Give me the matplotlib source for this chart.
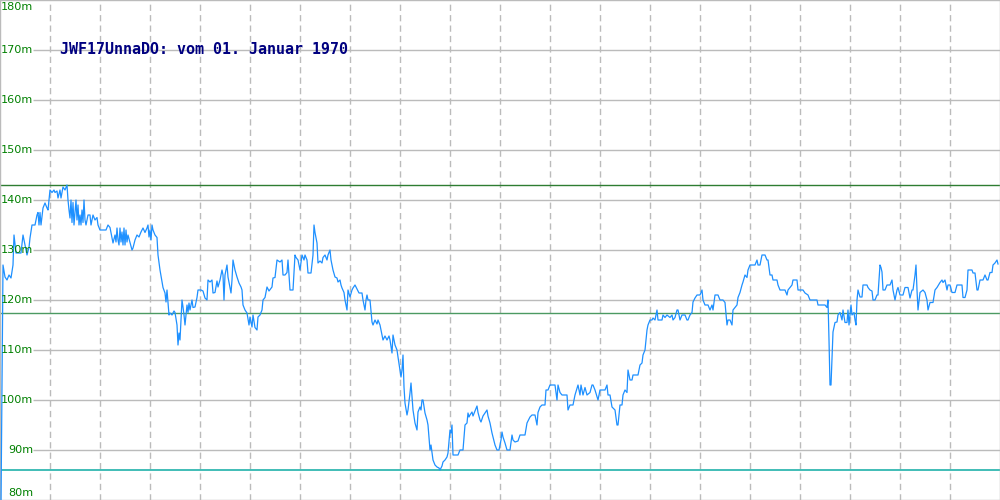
import matplotlib
matplotlib.use("Agg")
import matplotlib.pyplot as plt

# ---- data -------------------------------------------------------------
titel = "JWF17UnnaDO: vom 01. Januar 1970"
y_ticks = [80, 90, 100, 110, 120, 130, 140, 150, 160, 170, 180]
y_labels = ["80m", "90m", "100m", "110m", "120m", "130m", "140m", "150m", "160m", "170m", "180m"]
x_grid = [50, 100, 150, 200, 250, 300, 350, 400, 450, 500, 550, 600, 650, 700, 750, 800, 850, 900, 950]
maximum = 143.0
mittel = 117.4
minimum = 86.0

tage = [1, 3, 5, 7, 9, 11, 13, 14, 16, 19, 21, 23, 25, 27, 29, 30, 32, 35, 37, 38, 39, 40, 41, 43, 45, 47, 48,
        50, 52, 54, 55, 57, 58, 60, 61, 63, 65, 67, 68, 69, 70, 71, 72, 73, 74, 76, 77, 78, 79, 80, 81, 82, 83,
        84, 85, 86, 88, 90, 91, 93, 95, 97, 98, 100, 104, 106, 108, 110, 113, 115, 116, 117, 118, 119, 120, 121,
        122, 123, 124, 125, 126, 127, 128, 130, 132, 133, 135, 137, 139, 141, 143, 145, 147, 148, 149, 150, 151,
        152, 153, 155, 157, 158, 160, 162, 163, 165, 166, 167, 168, 169, 170, 172, 174, 175, 177, 178, 179, 180,
        182, 183, 184, 185, 187, 188, 189, 190, 192, 193, 195, 197, 198, 201, 203, 205, 207, 208, 210, 212, 213,
        215, 217, 218, 220, 222, 223, 224, 225, 227, 228, 230, 231, 232, 233, 235, 237, 239, 241, 242, 243, 245,
        247, 249, 250, 252, 253, 255, 257, 258, 260, 262, 263, 265, 267, 269, 272, 273, 275, 277, 280, 282, 283,
        285, 287, 288, 290, 293, 295, 296, 298, 300, 302, 304, 305, 307, 308, 311, 313, 314, 315, 317, 318, 320,
        322, 323, 325, 327, 328, 330, 331, 333, 335, 337, 338, 340, 341, 342, 344, 345, 347, 348, 350, 352, 353,
        355, 357, 359, 362, 363, 365, 366, 367, 368, 370, 372, 373, 375, 377, 378, 380, 382, 383, 385, 387, 389,
        390, 392, 393, 395, 397, 398, 400, 401, 402, 403, 404, 405, 407, 408, 410, 411, 413, 415, 417, 418, 420,
        421, 422, 423, 425, 427, 428, 430, 431, 432, 433, 435, 437, 439, 440, 442, 443, 445, 447, 448, 450, 451,
        452, 453, 455, 458, 460, 463, 465, 467, 468, 469, 470, 472, 473, 475, 477, 478, 480, 481, 483, 485, 487,
        488, 490, 492, 493, 495, 497, 499, 501, 502, 503, 505, 507, 510, 512, 513, 515, 518, 520, 525, 527, 530,
        532, 535, 537, 538, 540, 542, 545, 546, 548, 550, 555, 557, 558, 560, 562, 565, 567, 568, 570, 573, 575,
        578, 580, 581, 583, 585, 587, 590, 592, 593, 595, 598, 600, 605, 607, 608, 610, 612, 615, 617, 618, 620,
        622, 623, 625, 627, 628, 630, 632, 633, 638, 640, 642, 643, 645, 647, 648, 650, 652, 653, 655, 657, 658,
        662, 663, 665, 667, 670, 672, 673, 675, 677, 678, 680, 682, 685, 687, 688, 690, 692, 693, 695, 697, 700,
        702, 703, 705, 708, 710, 712, 713, 715, 718, 720, 723, 725, 727, 728, 730, 732, 733, 737, 738, 740, 742,
        743, 745, 747, 748, 750, 755, 757, 758, 760, 762, 765, 767, 768, 770, 772, 773, 777, 778, 780, 782, 785,
        787, 788, 792, 793, 797, 798, 803, 805, 808, 810, 817, 818, 825, 827, 828, 829, 830, 831, 832, 833, 835,
        837, 838, 840, 842, 843, 845, 847, 848, 849, 851, 852, 854, 855, 856, 857, 858, 860, 862, 863, 867, 868,
        870, 872, 873, 875, 877, 878, 880, 881, 882, 883, 885, 887, 890, 892, 893, 895, 897, 898, 900, 903, 905,
        908, 910, 912, 913, 915, 916, 917, 918, 920, 923, 925, 927, 928, 930, 933, 935, 937, 940, 942, 943, 945,
        947, 948, 950, 952, 955, 957, 962, 963, 965, 967, 968, 972, 973, 975, 977, 978, 980, 983, 985, 987, 988,
        990, 992, 993, 995, 997, 998]

pegel = [79, 127, 124.6, 124.0, 125.0, 124.4, 127, 133, 129.4, 129.4, 129.4, 133, 131, 129, 130.5, 132.4, 135, 135,
         137, 137.5, 135, 137.5, 135, 138.4, 139.4, 138.4, 138,
         142, 141.5, 142, 141.5, 141.8, 140.4, 142, 140.4, 142.6, 142, 143, 140, 138, 136.4, 140, 135.5, 139.5, 135,
         140, 136, 139, 135, 137, 135, 138, 135.5,
         140, 136, 135, 137, 137, 135, 137, 136, 136.5, 135, 134, 134, 134, 135, 134.5, 131.4, 133, 131.6, 134.4,
         132, 131, 134.4, 131.6,
         133.6, 131, 134.4, 131, 134, 131.6, 133, 131.5, 130, 130.4, 132, 133, 132.6, 133.6, 134.4, 133.5, 134.4,
         135, 132.6, 134, 132,
         135, 134, 133, 132.5, 129, 126, 123.6, 122.5, 121.4, 119.6, 122, 119.5, 117, 117.4, 117, 117.8, 117.5,
         115, 111, 113.4, 112,
         120, 118.6, 117, 115, 119, 117.5, 119.4, 118, 120, 118.5, 118.6, 120.5, 122, 122, 121.8, 120.4, 120, 124,
         123.6, 124, 121.4,
         121.5, 123.8, 122.6, 124, 126, 125, 120, 125, 127, 124.6, 122.5, 121.4, 124, 128, 126, 124.6, 123.4, 122.6,
         122, 119, 118,
         117.4, 115, 116.6, 114.6, 117, 114.5, 114, 116.6, 117, 118, 120, 120.5, 122.6, 121.8, 122.6, 124.4, 124.5,
         128, 127.6, 128, 125,
         125, 125.5, 128, 122, 122, 129, 128.5, 128, 126, 129, 128, 129, 128, 125.4, 125.4, 129, 135, 133.5, 131.4,
         127.4, 127.8,
         127.4, 128.5, 129, 128, 129, 130, 128, 126, 124.6, 124.4, 123.6, 124, 123, 122.4, 121.5, 120, 118, 122,
         120.6, 122, 122.4,
         123, 122.2, 121.4, 121.4, 120, 118, 120, 121, 120, 120, 115.6, 115, 116, 115.2, 116, 115, 113, 112, 112.8,
         112, 112.8,
         112, 109.4, 113, 111, 110, 108.6, 106, 104.6, 106, 109, 102.6, 99.4, 97, 98, 101.4, 103.4, 98, 95.4, 94,
         97.6, 98.6,
         98, 100, 100, 97.4, 96, 95, 90, 91, 89.5, 88, 87, 86.6, 86.4, 86, 86.8, 87.6, 88, 88.6, 89.4, 94, 93.4,
         95, 89, 89, 89, 90, 90, 95, 95.4, 97.4, 96.6, 97, 97.6, 96.8, 97.8, 98.8, 97.5, 96, 95.6, 96.8, 97.4, 98,
         96.8, 95.4, 93.4, 92.6, 91, 90, 90, 92, 93.6, 92.6, 91.4, 90, 90, 93, 92, 91.6, 91.8, 93, 93, 95.4, 96.6,
         97, 97, 95, 97.5, 98.6, 99, 99, 102, 102, 103, 103, 100, 103, 101.5, 101, 101, 101, 98, 99, 99, 101,
         103, 101, 103, 101, 102.5, 101, 101.5, 103, 103, 102, 100, 102, 102, 103, 101, 101, 98.6, 98, 95, 95, 99,
         99, 101, 102, 101.5, 106, 104, 104, 105, 105, 107, 107.4, 109, 110, 114, 115, 116, 116, 116.4, 116, 118, 116,
         116, 117, 116.5, 117, 116.5, 117, 116, 116.5, 118, 118, 116, 117, 117, 116, 116, 117, 117.5, 119.6, 120.4,
         121, 121,
         122, 120, 119, 119, 118, 119, 118, 121, 121, 120, 120, 119.5, 115, 116, 116, 115, 118, 119, 120.5, 121.5,
         123,
         123.6, 125, 124.5, 126, 127, 127, 128, 127, 127, 129, 129, 128, 128, 125, 125, 124, 124, 123, 122, 122, 122,
         121, 122, 123, 124, 124, 122, 122, 121.4, 121, 120, 120, 119, 119, 118.5, 120, 112, 103, 103, 108.4, 113.6,
         115.5,
         115.6, 117, 117.5, 116, 118, 115.5, 115.5, 118, 115, 119, 117, 117.5, 116, 115, 120, 122, 120.6, 120.6, 123,
         123, 122.5,
         122, 121.8, 120, 120, 121, 121, 127, 126.5, 125.6, 122, 122, 123, 123, 124, 122, 120, 122, 122.5, 121,
         121, 122.5,
         122.5, 120.4, 122, 122, 125, 127, 122, 118, 121.5, 122, 121.5, 120, 118, 119.5, 119.5, 122, 122.5, 123.5,
         124, 123.5, 124,
         122, 123, 123, 121.5, 121.5, 123, 123, 120.5, 120.5, 122, 126, 126, 125.4, 125.4, 122, 122, 124, 124, 125,
         124, 124,
         125.5, 125.5, 127, 127.4, 128, 127.2]

# ---- figure -----------------------------------------------------------
fig = plt.figure(figsize=(10, 5), dpi=100)
ax = fig.add_axes([0, 0, 1, 1])
ax.set_xlim(0, 1000)
ax.set_ylim(80, 180)
ax.set_xticks([])
ax.set_yticks([])
for s in ax.spines.values():
    s.set_color("#bbbbbb")
    s.set_linewidth(1.0)

grid_c = "#bbbbbb"
ax.hlines(y_ticks[1:-1], 33, 1000, colors=grid_c, linewidth=1.0, zorder=1)
for xv in x_grid:
    ax.axvline(xv, color=grid_c, linewidth=1.0, linestyle=(0, (4.5, 3)), zorder=1)

ax.axhline(maximum, color="#2e7d32", linewidth=1.0, zorder=2)
ax.axhline(mittel, color="#4c9a62", linewidth=1.0, zorder=2)
ax.axhline(minimum, color="#20b2aa", linewidth=1.2, zorder=2)

ax.plot(tage, pegel, color="#1e90ff", linewidth=0.9, zorder=3)

lab_kw = dict(ha="right", color="#008000", fontsize=8.1, family="DejaVu Sans")
for v, lab in zip(y_ticks, y_labels):
    if v == 180:
        ax.text(33, v - 0.4, lab, va="top", **lab_kw)
    elif v == 80:
        ax.text(33, v + 0.3, lab, va="bottom", **lab_kw)
    else:
        ax.text(33, v, lab, va="center", **lab_kw)

ax.text(60, 169.3, titel, ha="left", va="baseline", color="#000080", fontsize=10.8,
        family="DejaVu Sans Mono", fontweight="bold")

fig.savefig("out.png", dpi=100)
